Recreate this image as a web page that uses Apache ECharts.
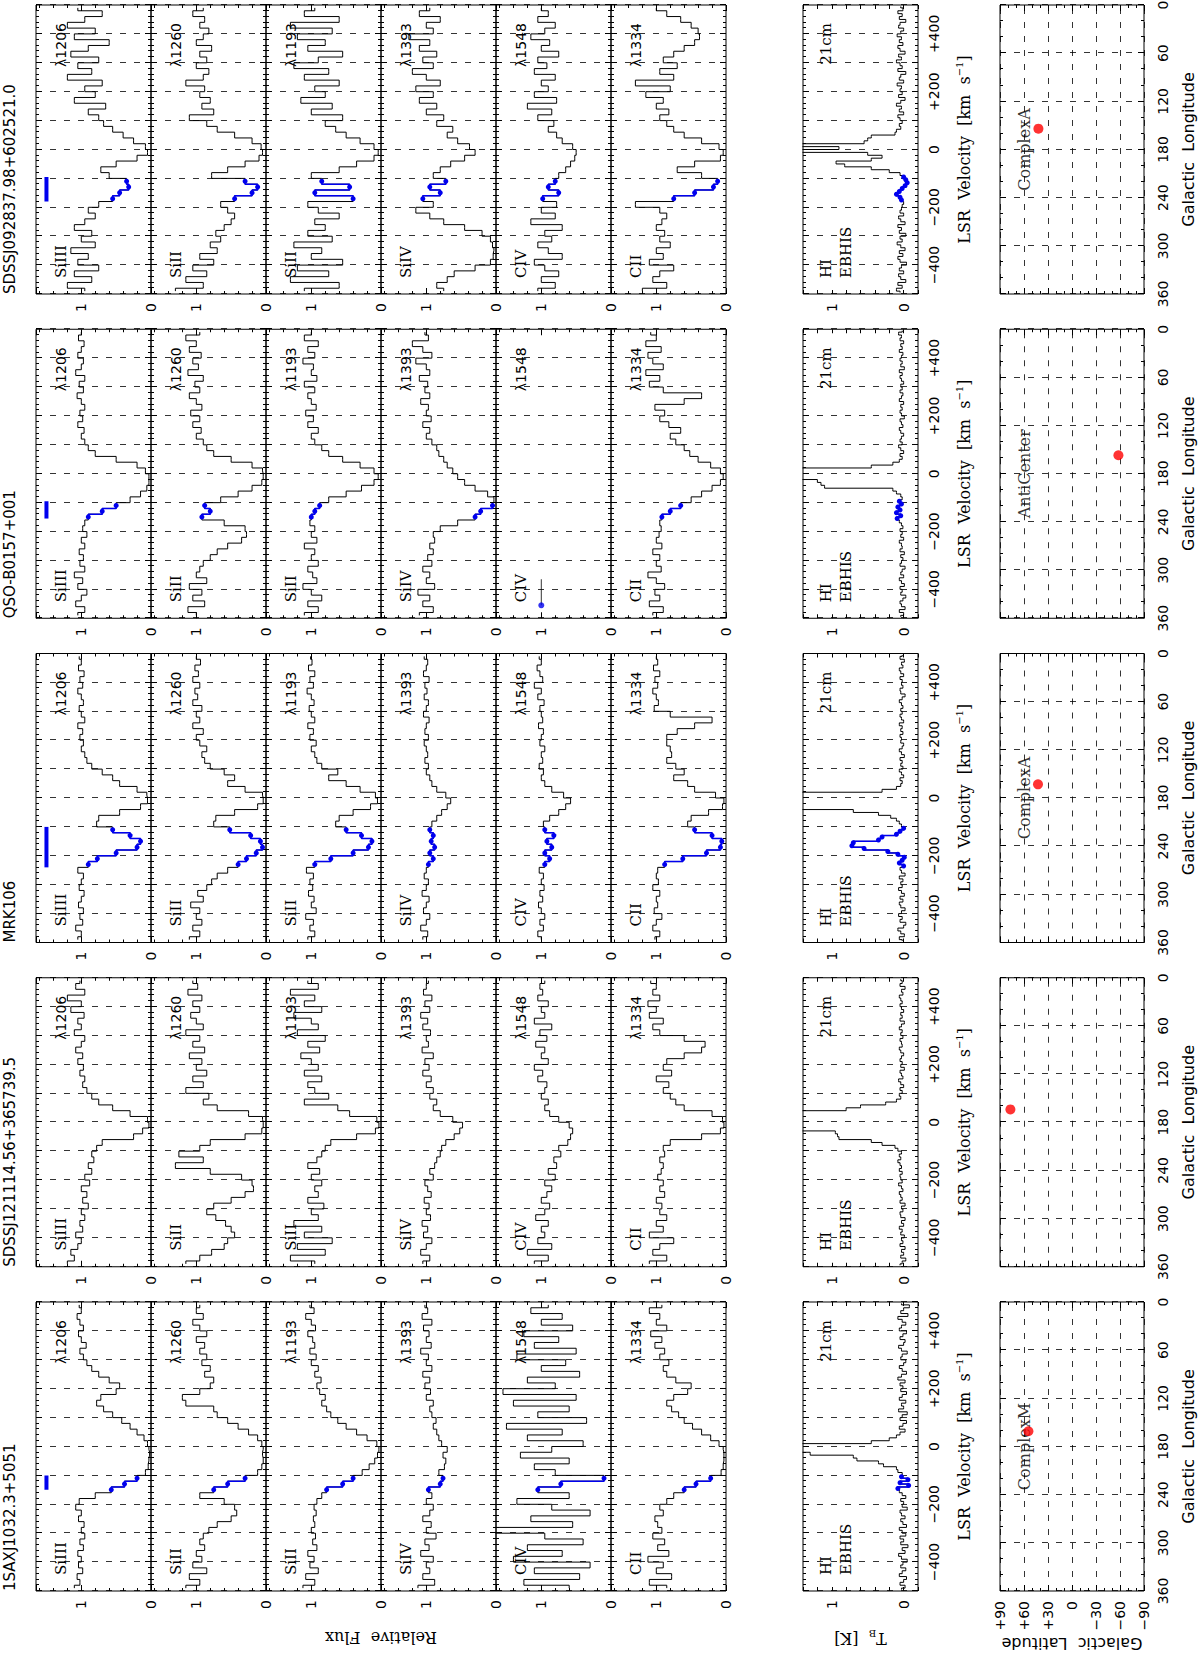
<!DOCTYPE html>
<html>
<head>
<meta charset="utf-8">
<script src="https://cdn.jsdelivr.net/npm/echarts@6/dist/echarts.min.js"></script>
<style>
html, body { margin: 0; padding: 0; background: #fff; width: 1200px; height: 1655px; overflow: hidden; }
#frame { position: absolute; left: 0; top: 0; width: 1200px; height: 1655px; overflow: hidden; background: #fff; }
/* the figure is laid out landscape and turned a quarter turn anticlockwise */
#chart { position: absolute; left: 0; top: 0; width: 1655px; height: 1200px; transform-origin: 0 0; transform: translate(0, 1655px) rotate(-90deg); }
</style>
</head>
<body>
<div id="frame"><div id="chart"></div></div>
<script>
// ---- data ----
var sourceNames = ['1SAXJ1032.3+5051', 'SDSSJ121114.56+365739.5', 'MRK106', 'QSO-B0157+001', 'SDSSJ092837.98+602521.0'];
var ionNames = ['SiIII', 'SiII', 'SiII', 'SiIV', 'CIV', 'CII'];
var lineNames = ['\u03bb1206', '\u03bb1260', '\u03bb1193', '\u03bb1393', '\u03bb1548', '\u03bb1334'];

// UV bin centres (km/s)
var uvVel = [-490, -470, -450, -430, -410, -390, -370, -350, -330, -310,
  -290, -270, -250, -230, -210, -190, -170, -150, -130, -110,
  -90, -70, -50, -30, -10, 10, 30, 50, 70, 90,
  110, 130, 150, 170, 190, 210, 230, 250, 270, 290,
  310, 330, 350, 370, 390, 410, 430, 450, 470, 490];

// 21cm channel centres (km/s)
var hiVel = [-495, -485, -475, -465, -455, -445, -435, -425, -415, -405,
  -395, -385, -375, -365, -355, -345, -335, -325, -315, -305,
  -295, -285, -275, -265, -255, -245, -235, -225, -215, -205,
  -195, -185, -175, -165, -155, -145, -135, -125, -115, -105,
  -95, -85, -75, -65, -55, -45, -35, -25, -15, -5,
  5, 15, 25, 35, 45, 55, 65, 75, 85, 95,
  105, 115, 125, 135, 145, 155, 165, 175, 185, 195,
  205, 215, 225, 235, 245, 255, 265, 275, 285, 295,
  305, 315, 325, 335, 345, 355, 365, 375, 385, 395,
  405, 415, 425, 435, 445, 455, 465, 475, 485, 495];

// 1SAXJ1032.3+5051
var saxSiIII = [1.10, 1.02, 1.06, 0.98, 1.04, 1.00, 1.05, 0.97, 1.02, 0.95,
  1.00, 0.96, 1.04, 1.00, 1.08, 1.03, 0.80, 0.57, 0.38, 0.20,
  0.08, 0.04, 0.03, 0.02, 0.03, 0.05, 0.10, 0.20, 0.30, 0.42,
  0.55, 0.68, 0.78, 0.72, 0.50, 0.45, 0.60, 0.75, 0.85, 0.92,
  0.97, 1.02, 0.93, 1.00, 1.04, 0.97, 1.02, 1.06, 1.00, 1.03];
var saxSiII1260 = [1.15, 0.95, 1.10, 0.85, 1.05, 0.92, 1.00, 0.88, 0.95, 0.90,
  0.82, 0.70, 0.50, 0.42, 0.45, 0.60, 0.95, 0.75, 0.55, 0.30,
  0.12, 0.06, 0.04, 0.05, 0.04, 0.06, 0.12, 0.25, 0.40, 0.55,
  0.70, 0.75, 1.15, 1.20, 0.95, 0.80, 0.75, 0.88, 0.80, 0.92,
  0.85, 0.95, 0.88, 1.00, 0.85, 0.95, 1.05, 0.90, 1.00, 0.95];
var saxSiII1193 = [1.12, 0.95, 1.08, 0.90, 1.02, 0.96, 1.05, 0.92, 0.98, 0.94,
  1.00, 0.95, 0.97, 0.93, 0.96, 0.92, 0.85, 0.78, 0.55, 0.40,
  0.27, 0.17, 0.09, 0.05, 0.03, 0.06, 0.20, 0.35, 0.50, 0.62,
  0.72, 0.78, 0.85, 0.80, 0.88, 0.92, 0.86, 0.95, 0.90, 1.00,
  0.93, 1.02, 0.95, 0.98, 1.05, 0.94, 1.00, 1.08, 0.96, 1.02];
var saxSiIV = [1.12, 0.88, 1.05, 0.95, 1.00, 0.90, 1.08, 0.96, 1.02, 0.86,
  1.00, 0.93, 1.05, 0.95, 0.90, 1.00, 0.92, 0.97, 0.80, 0.76,
  0.82, 0.74, 0.72, 0.76, 0.70, 0.78, 0.82, 0.85, 0.90, 0.86,
  0.92, 0.95, 0.90, 1.00, 0.94, 1.02, 0.95, 1.05, 0.92, 1.00,
  0.97, 1.08, 0.93, 1.00, 0.96, 1.04, 0.92, 1.06, 0.98, 1.02];
var saxCIV = [0.60, 1.25, 0.45, 1.10, 0.30, 1.40, 0.70, 1.20, 0.40, 0.95,
  1.70, 0.55, 1.15, 0.30, 0.85, 1.35, 0.60, 1.05, 0.72, 0.10,
  0.80, 1.10, 0.60, 1.30, 0.85, 0.40, 1.20, 0.70, 1.50, 0.35,
  1.05, 0.60, 1.40, 0.50, 1.55, 0.80, 1.20, 0.45, 1.00, 0.65,
  1.35, 0.50, 1.10, 0.75, 1.25, 0.55, 1.00, 0.70, 1.15, 0.90];
var saxCII = [0.85, 1.10, 0.78, 1.00, 0.90, 1.12, 0.82, 0.98, 0.88, 1.05,
  0.92, 0.98, 1.02, 0.90, 0.95, 0.85, 0.75, 0.60, 0.43, 0.22,
  0.07, 0.04, 0.03, 0.03, 0.04, 0.10, 0.22, 0.35, 0.48, 0.60,
  0.68, 0.78, 0.85, 0.75, 0.55, 0.50, 0.72, 0.85, 0.90, 0.82,
  0.95, 0.88, 1.02, 0.92, 1.08, 0.85, 1.00, 0.95, 1.10, 0.92];
var saxHI = [0.03, -0.02, 0.05, 0.00, -0.04, 0.06, 0.02, -0.03, 0.04, 0.01,
  -0.05, 0.03, 0.07, -0.02, 0.02, -0.06, 0.04, 0.00, 0.05, -0.03,
  0.02, 0.06, -0.04, 0.01, 0.04, -0.02, 0.03, 0.05, -0.05, 0.02,
  0.00, 0.04, -0.03, 0.02, 0.06, 0.08, -0.07, 0.05, -0.06, 0.03,
  0.02, 0.08, 0.10, 0.28, 0.35, 0.65, 0.70, 1.30, 3.50, 6.00,
  2.80, 0.45, 0.20, 0.10, 0.05, -0.02, 0.06, 0.01, -0.04, 0.05,
  0.02, -0.05, 0.07, 0.00, 0.03, -0.03, 0.06, 0.02, -0.04, 0.04,
  0.01, 0.05, -0.02, 0.08, 0.03, -0.04, 0.02, 0.06, 0.00, -0.03,
  0.04, 0.02, -0.05, 0.03, 0.07, 0.00, -0.02, 0.05, 0.01, -0.04,
  0.06, 0.03, -0.03, 0.02, 0.08, -0.06, 0.04, 0.00, -0.08, 0.03];

// SDSSJ121114.56+365739.5
var j1211SiIII = [1.20, 1.10, 1.15, 1.05, 1.00, 1.08, 0.98, 1.02, 0.95, 1.00,
  0.90, 0.98, 0.92, 1.00, 0.88, 0.95, 0.85, 0.90, 0.82, 0.85,
  0.78, 0.70, 0.25, 0.12, 0.03, 0.05, 0.30, 0.55, 0.75, 0.85,
  0.92, 0.98, 0.95, 1.02, 0.97, 1.05, 0.98, 1.08, 1.00, 0.95,
  1.10, 1.00, 1.05, 0.96, 1.15, 1.00, 1.20, 0.95, 1.08, 1.02];
var j1211SiII1260 = [1.15, 0.95, 0.78, 0.60, 0.55, 0.45, 0.50, 0.58, 0.72, 0.85,
  0.75, 0.50, 0.30, 0.18, 0.20, 0.35, 0.80, 1.30, 0.90, 1.25,
  0.95, 0.80, 0.30, 0.06, 0.04, 0.05, 0.25, 0.70, 0.90, 0.82,
  1.15, 0.90, 1.05, 0.85, 1.00, 0.92, 1.10, 0.88, 1.05, 0.95,
  1.15, 0.90, 1.00, 1.08, 0.95, 1.05, 0.92, 1.12, 0.98, 1.05];
var j1211SiII1193 = [0.95, 1.30, 0.80, 1.20, 0.70, 1.10, 0.85, 1.25, 0.90, 1.00,
  0.82, 1.05, 0.90, 0.95, 0.85, 1.00, 0.88, 1.05, 0.92, 0.85,
  0.80, 0.72, 0.35, 0.08, 0.03, 0.06, 0.45, 0.62, 1.10, 0.75,
  0.95, 1.05, 0.85, 1.10, 0.90, 1.00, 1.15, 0.88, 1.05, 0.80,
  1.20, 0.90, 1.00, 1.25, 0.85, 1.10, 0.95, 1.30, 0.90, 1.05];
var j1211SiIV = [1.05, 0.95, 1.08, 1.00, 0.92, 1.04, 0.98, 1.06, 0.94, 1.00,
  0.96, 1.03, 0.93, 0.98, 1.02, 0.90, 0.95, 0.88, 0.85, 0.80,
  0.78, 0.72, 0.60, 0.52, 0.48, 0.62, 0.80, 0.90, 0.85, 0.95,
  0.90, 1.00, 0.93, 1.05, 0.96, 1.02, 0.90, 1.06, 0.97, 1.00,
  0.94, 1.05, 0.98, 1.08, 0.95, 1.02, 0.92, 1.04, 1.00, 0.97];
var j1211CIV = [1.10, 0.90, 1.20, 0.85, 1.05, 0.95, 1.00, 0.90, 1.08, 0.95,
  0.88, 1.00, 0.92, 0.85, 0.95, 0.80, 0.90, 0.78, 0.82, 0.72,
  0.75, 0.62, 0.58, 0.55, 0.60, 0.75, 0.88, 0.95, 0.90, 1.00,
  0.95, 0.92, 1.05, 0.98, 1.10, 0.90, 1.00, 0.95, 1.08, 0.92,
  1.02, 0.85, 1.10, 0.95, 1.00, 0.90, 1.05, 0.98, 1.02, 0.95];
var j1211CII = [1.10, 0.85, 1.05, 0.95, 0.75, 1.10, 0.90, 1.00, 0.85, 0.95,
  0.92, 1.00, 0.88, 0.95, 0.90, 0.98, 0.93, 0.90, 0.95, 0.88,
  0.90, 0.80, 0.35, 0.08, 0.03, 0.05, 0.20, 0.60, 0.72, 0.80,
  0.90, 0.82, 1.00, 0.78, 0.90, 0.85, 0.60, 0.35, 0.30, 0.60,
  0.95, 1.05, 0.90, 1.10, 1.00, 1.12, 0.95, 1.05, 1.00, 1.08];
var j1211HI = [0.05, 0.02, -0.03, 0.04, 0.00, 0.03, -0.02, 0.05, 0.01, 0.03,
  -0.01, 0.04, 0.02, 0.06, 0.00, 0.03, -0.02, 0.04, 0.05, 0.01,
  0.03, -0.02, 0.05, 0.02, 0.04, 0.06, 0.01, 0.03, 0.07, 0.02,
  0.04, 0.05, 0.02, 0.06, 0.03, 0.05, 0.08, 0.04, 0.06, 0.03,
  0.08, 0.12, 0.30, 0.45, 0.90, 0.92, 0.95, 2.50, 4.00, 5.00,
  5.00, 4.50, 3.00, 1.80, 0.80, 0.60, 0.25, 0.10, 0.04, 0.06,
  0.02, 0.05, 0.00, 0.04, 0.07, 0.01, 0.03, 0.05, -0.01, 0.04,
  0.02, 0.05, 0.03, 0.00, 0.04, 0.06, 0.02, 0.03, 0.05, 0.01,
  0.04, 0.02, 0.06, 0.03, -0.01, 0.05, 0.02, 0.04, 0.00, 0.03,
  0.05, 0.02, 0.04, 0.06, 0.01, 0.03, -0.02, 0.05, 0.02, 0.04];

// MRK106
var mrkSiIII = [1.05, 1.00, 1.08, 0.98, 1.02, 0.97, 1.04, 1.00, 0.96, 1.03,
  1.00, 0.97, 1.05, 0.90, 0.77, 0.50, 0.20, 0.15, 0.30, 0.55,
  0.78, 0.75, 0.45, 0.15, 0.05, 0.06, 0.20, 0.45, 0.55, 0.70,
  0.85, 0.92, 0.95, 1.00, 0.97, 1.02, 0.98, 1.05, 0.95, 1.00,
  1.03, 0.97, 1.00, 1.05, 0.98, 1.02, 0.96, 1.04, 1.00, 1.03];
var mrkSiII1260 = [1.10, 0.95, 1.05, 0.92, 1.00, 0.95, 1.08, 0.90, 0.98, 0.85,
  0.78, 0.70, 0.55, 0.40, 0.28, 0.14, 0.05, 0.08, 0.22, 0.52,
  0.75, 0.72, 0.45, 0.12, 0.04, 0.05, 0.30, 0.55, 0.45, 0.60,
  0.80, 0.88, 0.92, 0.85, 0.95, 1.00, 0.90, 1.05, 0.95, 1.00,
  0.92, 1.05, 0.98, 1.02, 0.95, 1.05, 0.97, 1.02, 0.94, 1.00];
var mrkSiII1193 = [1.05, 0.95, 1.02, 0.97, 1.08, 0.93, 1.00, 0.96, 1.04, 0.98,
  1.02, 0.97, 1.07, 0.95, 0.72, 0.40, 0.18, 0.13, 0.28, 0.50,
  0.65, 0.60, 0.40, 0.15, 0.05, 0.08, 0.30, 0.50, 0.75, 0.62,
  0.85, 0.92, 0.95, 1.00, 0.93, 1.02, 0.97, 1.05, 0.95, 1.00,
  1.03, 0.96, 1.00, 1.06, 0.97, 1.02, 0.95, 1.04, 0.99, 1.01];
var mrkSiIV = [1.05, 0.98, 1.08, 1.00, 0.95, 1.04, 1.00, 0.96, 1.06, 1.00,
  0.97, 1.03, 1.00, 0.97, 0.90, 0.95, 0.88, 0.93, 0.90, 0.95,
  0.92, 0.85, 0.78, 0.70, 0.65, 0.72, 0.85, 0.92, 0.95, 1.00,
  0.97, 1.02, 0.98, 1.00, 1.03, 0.97, 1.02, 1.00, 0.96, 1.04,
  1.00, 0.97, 1.03, 0.99, 1.02, 0.96, 1.04, 1.00, 0.98, 1.03];
var mrkCIV = [1.00, 1.05, 0.97, 1.02, 0.95, 1.00, 1.04, 0.98, 1.02, 0.96,
  1.00, 0.97, 1.03, 0.95, 0.88, 0.95, 0.85, 0.92, 0.82, 0.95,
  0.97, 0.88, 0.75, 0.65, 0.58, 0.68, 0.85, 0.95, 1.00, 0.97,
  1.03, 0.98, 1.00, 0.95, 1.02, 1.00, 0.97, 1.04, 0.98, 1.00,
  1.02, 0.96, 1.05, 1.00, 1.10, 0.98, 1.02, 1.06, 1.00, 1.03];
var mrkCII = [1.02, 0.95, 1.05, 1.00, 0.92, 1.03, 0.98, 1.00, 0.95, 1.05,
  0.97, 1.00, 0.98, 0.88, 0.62, 0.28, 0.08, 0.06, 0.20, 0.45,
  0.55, 0.50, 0.25, 0.05, 0.03, 0.15, 0.45, 0.55, 0.75, 0.60,
  0.72, 0.85, 0.78, 0.80, 0.85, 0.85, 0.70, 0.45, 0.20, 0.80,
  1.03, 0.97, 1.00, 1.05, 0.98, 1.02, 0.95, 1.04, 0.98, 1.00];
var mrkHI = [0.02, 0.06, -0.01, 0.04, 0.08, 0.00, -0.03, 0.05, 0.02, 0.07,
  0.03, -0.02, 0.04, 0.06, 0.01, 0.05, -0.01, 0.03, 0.07, 0.02,
  0.04, 0.01, 0.06, -0.02, 0.03, 0.05, 0.00, 0.06, 0.02, -0.01,
  0.08, 0.22, 0.55, 0.72, 0.70, 0.35, 0.30, 0.10, 0.05, 0.00,
  0.03, 0.06, 0.10, 0.18, 0.35, 0.70, 1.50, 3.50, 6.00, 8.00,
  5.00, 1.50, 0.30, 0.10, 0.04, 0.02, 0.05, 0.00, 0.03, 0.06,
  0.01, 0.04, 0.02, 0.05, -0.01, 0.03, 0.06, 0.02, 0.00, 0.04,
  0.03, 0.05, 0.01, 0.04, 0.02, 0.06, 0.00, 0.03, 0.05, 0.02,
  0.04, 0.01, 0.03, 0.06, 0.02, -0.02, 0.04, 0.05, 0.01, 0.03,
  0.02, 0.05, 0.00, 0.04, 0.06, 0.01, 0.03, -0.01, 0.05, 0.02];

// QSO-B0157+001
var b0157SiIII = [1.05, 0.95, 1.08, 1.00, 0.92, 1.05, 0.98, 1.10, 0.95, 1.02,
  0.97, 1.03, 0.95, 1.00, 0.92, 0.98, 0.95, 0.90, 0.70, 0.50,
  0.30, 0.15, 0.06, 0.03, 0.03, 0.08, 0.20, 0.50, 0.80, 0.90,
  0.95, 1.00, 0.96, 1.05, 0.98, 1.02, 0.95, 1.00, 1.06, 0.97,
  1.03, 0.95, 1.08, 1.00, 0.97, 1.05, 1.00, 0.96, 1.04, 1.00];
var b0157SiII1260 = [1.00, 1.12, 0.88, 1.05, 0.92, 1.10, 0.85, 1.00, 0.95, 0.90,
  0.80, 0.70, 0.55, 0.35, 0.28, 0.30, 0.60, 0.92, 0.80, 0.88,
  0.65, 0.40, 0.20, 0.06, 0.04, 0.05, 0.20, 0.50, 0.75, 0.85,
  0.90, 1.00, 0.93, 1.05, 0.95, 1.08, 0.92, 1.00, 1.10, 0.95,
  1.02, 0.90, 1.12, 0.97, 1.05, 0.93, 1.10, 1.00, 1.15, 0.95];
var b0157SiII1193 = [1.10, 0.90, 1.05, 0.85, 1.00, 1.12, 0.92, 0.98, 1.05, 0.90,
  1.00, 0.95, 1.10, 0.92, 1.00, 0.95, 1.02, 1.00, 0.95, 0.88,
  0.75, 0.50, 0.28, 0.10, 0.04, 0.10, 0.30, 0.55, 0.75, 0.85,
  0.95, 1.00, 0.90, 1.05, 0.97, 1.08, 0.93, 1.00, 1.05, 0.95,
  1.10, 0.92, 1.00, 0.97, 1.12, 0.95, 1.05, 0.90, 1.10, 1.00];
var b0157SiIV = [1.10, 0.90, 1.05, 0.95, 1.12, 0.88, 1.00, 0.95, 1.05, 0.92,
  0.98, 0.90, 0.95, 0.88, 0.90, 0.80, 0.55, 0.30, 0.22, 0.05,
  0.03, 0.12, 0.30, 0.45, 0.55, 0.62, 0.70, 0.75, 0.82, 0.85,
  0.92, 1.00, 0.95, 1.05, 0.93, 1.00, 0.97, 1.08, 0.95, 1.02,
  0.98, 1.10, 0.95, 1.00, 1.15, 0.92, 1.05, 1.20, 0.97, 1.02];
var b0157CivVel = [-455, -365];
var b0157CivFlux = [1.00, 1.00];
var b0157CII = [1.05, 0.90, 1.10, 0.95, 1.02, 0.88, 1.00, 1.12, 0.93, 1.00,
  0.95, 1.05, 0.92, 1.00, 0.96, 0.93, 0.95, 0.92, 0.80, 0.65,
  0.50, 0.35, 0.20, 0.08, 0.04, 0.08, 0.22, 0.40, 0.52, 0.60,
  0.72, 0.80, 0.65, 0.82, 0.95, 0.88, 1.02, 0.60, 0.35, 0.90,
  1.10, 0.95, 1.15, 0.90, 1.05, 1.12, 0.93, 1.15, 1.00, 1.08];
var b0157HI = [0.04, 0.00, 0.06, -0.02, 0.03, 0.05, 0.01, -0.03, 0.04, 0.02,
  0.05, -0.01, 0.03, 0.06, 0.00, 0.04, 0.02, -0.02, 0.05, 0.03,
  0.01, 0.04, -0.01, 0.05, 0.02, 0.03, 0.06, 0.00, 0.04, 0.02,
  0.05, 0.01, 0.03, 0.06, 0.09, 0.04, 0.10, 0.05, 0.08, 0.03,
  0.06, 0.02, 0.04, 0.10, 0.15, 1.10, 1.15, 1.20, 2.50, 5.00,
  6.00, 3.50, 0.45, 0.15, 0.06, 0.02, 0.05, 0.00, 0.04, 0.07,
  0.02, 0.05, 0.03, 0.00, 0.04, 0.06, 0.01, 0.03, 0.05, -0.01,
  0.03, 0.05, 0.02, 0.04, 0.00, 0.06, 0.03, 0.01, 0.05, 0.02,
  0.04, 0.00, 0.03, 0.05, 0.02, 0.06, -0.01, 0.04, 0.02, 0.05,
  0.03, 0.01, 0.06, 0.02, 0.04, 0.00, 0.05, 0.03, 0.07, 0.02];

// SDSSJ092837.98+602521.0
var j0928SiIII = [0.95, 1.20, 0.85, 1.10, 0.75, 1.05, 0.90, 1.15, 0.80, 1.00,
  0.85, 1.10, 0.95, 0.80, 0.90, 0.75, 0.55, 0.45, 0.32, 0.35,
  0.60, 0.72, 0.50, 0.20, 0.05, 0.08, 0.25, 0.40, 0.55, 0.68,
  0.75, 0.90, 0.65, 1.10, 0.80, 0.95, 0.70, 1.20, 0.85, 1.05,
  0.75, 1.15, 0.90, 0.60, 1.10, 0.80, 1.20, 0.95, 0.70, 1.05];
var j0928SiII1260 = [1.30, 0.90, 1.15, 0.85, 1.05, 0.75, 0.95, 0.70, 0.80, 0.65,
  0.72, 0.60, 0.50, 0.45, 0.55, 0.65, 0.45, 0.20, 0.12, 0.30,
  0.78, 0.55, 0.30, 0.10, 0.05, 0.07, 0.20, 0.45, 0.70, 0.85,
  1.10, 0.75, 0.92, 0.80, 0.95, 0.88, 1.15, 0.90, 0.82, 1.00,
  0.85, 0.95, 0.78, 1.00, 0.90, 0.82, 0.95, 0.88, 1.05, 0.90];
var j0928SiII1193 = [1.10, 0.60, 1.30, 0.75, 1.20, 0.55, 1.00, 0.85, 1.25, 0.70,
  1.05, 0.80, 0.95, 0.60, 0.90, 1.05, 0.40, 0.95, 0.45, 0.85,
  1.00, 0.60, 0.35, 0.10, 0.04, 0.10, 0.30, 0.50, 0.65, 0.80,
  0.55, 1.00, 0.70, 1.15, 0.80, 0.95, 0.60, 1.10, 0.75, 1.25,
  0.90, 0.55, 1.05, 0.80, 1.20, 0.70, 1.30, 0.60, 1.10, 0.95];
var j0928SiIV = [0.75, 0.85, 0.70, 0.60, 0.30, 0.08, 0.04, 0.03, 0.05, 0.08,
  0.20, 0.45, 0.75, 0.95, 1.15, 0.90, 1.05, 0.80, 0.95, 0.72,
  0.90, 0.80, 0.65, 0.45, 0.30, 0.38, 0.55, 0.70, 0.62, 0.85,
  0.75, 1.00, 0.85, 1.10, 0.90, 1.15, 0.80, 1.00, 1.20, 0.90,
  1.05, 0.85, 1.10, 0.95, 1.25, 0.90, 1.00, 0.80, 1.10, 0.95];
var j0928CIV = [1.05, 0.80, 1.00, 0.75, 0.95, 1.10, 0.70, 0.90, 1.05, 0.85,
  0.95, 0.70, 1.15, 0.80, 1.00, 0.78, 0.98, 0.75, 0.90, 0.80,
  0.75, 0.65, 0.58, 0.52, 0.50, 0.55, 0.70, 0.78, 0.90, 0.82,
  1.05, 0.85, 1.20, 0.78, 1.10, 0.90, 1.00, 0.80, 1.10, 0.92,
  1.05, 0.75, 1.00, 0.88, 1.15, 0.95, 0.80, 1.05, 0.90, 1.00];
var j0928CII = [1.20, 0.85, 1.05, 0.95, 0.75, 1.10, 0.90, 1.00, 0.80, 0.95,
  0.88, 1.00, 0.92, 0.85, 0.95, 1.30, 0.75, 0.45, 0.18, 0.12,
  0.35, 0.70, 0.45, 0.08, 0.04, 0.10, 0.35, 0.60, 0.75, 0.85,
  0.95, 0.82, 1.00, 0.90, 1.15, 0.80, 1.30, 0.75, 0.95, 0.70,
  0.90, 0.75, 0.60, 0.45, 0.38, 0.40, 0.50, 0.65, 0.85, 1.00];
var j0928HI = [0.05, 0.10, 0.02, 0.08, -0.03, 0.04, 0.07, 0.00, 0.06, 0.03,
  -0.04, 0.05, 0.08, 0.01, 0.06, -0.02, 0.04, 0.09, 0.02, 0.05,
  -0.03, 0.06, 0.03, 0.08, -0.02, 0.04, 0.07, 0.00, 0.05, 0.03,
  0.02, 0.00, 0.03, 0.05, 0.10, 0.06, 0.02, -0.02, -0.05, -0.03,
  0.00, 0.05, 0.20, 0.45, 0.82, 0.94, 0.45, 0.30, 0.50, 4.00,
  0.90, 4.00, 0.55, 0.50, 0.45, 0.12, 0.10, 0.04, 0.06, 0.02,
  0.05, 0.08, 0.00, 0.06, 0.03, 0.10, 0.04, -0.02, 0.07, 0.02,
  0.05, 0.03, 0.09, 0.00, 0.06, 0.04, -0.03, 0.08, 0.02, 0.05,
  0.10, 0.03, 0.07, -0.02, 0.05, 0.08, 0.01, 0.06, 0.03, 0.09,
  0.04, 0.00, 0.07, 0.05, -0.03, 0.06, 0.02, 0.08, 0.01, 0.04];

var uvFlux = [
  [saxSiIII, saxSiII1260, saxSiII1193, saxSiIV, saxCIV, saxCII],
  [j1211SiIII, j1211SiII1260, j1211SiII1193, j1211SiIV, j1211CIV, j1211CII],
  [mrkSiIII, mrkSiII1260, mrkSiII1193, mrkSiIV, mrkCIV, mrkCII],
  [b0157SiIII, b0157SiII1260, b0157SiII1193, b0157SiIV, null, b0157CII],
  [j0928SiIII, j0928SiII1260, j0928SiII1193, j0928SiIV, j0928CIV, j0928CII]
];
var hiTemp = [saxHI, j1211HI, mrkHI, b0157HI, j0928HI];

// high-velocity integration ranges (km/s) and bar level
var hvcLow = [-150, null, -240, -155, -180];
var hvcHigh = [-100, null, -100, -95, -95];
var hvcBarFlux = 1.5;

// sky positions
var glon = [161, 164, 163, 157, 154];
var glat = [54.5, 77, 42.5, -58, 42];
var complexNames = ['ComplexM', '', 'ComplexA', 'AntiCenter', 'ComplexA'];
var complexLabelPos = [180, 60];

// ---- layout (landscape coordinates) ----
var BLACK = '#000000', BLUE = '#0000ee', RED = '#ff0000';
var SANS = 'DejaVu Sans', SERIF = 'DejaVu Serif';
var DASH = [6, 8];
var PW = 289;
var blockLeft = [64, 388.25, 712.5, 1036.75, 1361];
var fluxTop = [36, 151, 266, 381, 496, 611];
var PH = 115, hiTop = 803, mapTop = 1000, mapH = 144;

var grids = [], xAxes = [], yAxes = [], series = [], graphics = [], titles = [];

function tick(len) { return { show: true, inside: true, length: len, lineStyle: { color: BLACK, width: 1 } }; }
function minor(n, len) { return { show: true, splitNumber: n, length: len, lineStyle: { color: BLACK, width: 1 } }; }
var noLine = { show: false, onZero: false };
var dashed = { show: true, lineStyle: { color: BLACK, width: 0.8, type: DASH } };

function unitLabel(v) {
  if (Math.abs(v) < 1e-6) return '0';
  if (Math.abs(v - 1) < 1e-6) return '1';
  return '';
}
function velLabel(v) {
  var r = Math.round(v);
  if (r === 0) return '0';
  if (r % 200 !== 0 || Math.abs(r) >= 500) return '';
  return r > 0 ? '+' + r : '\u2212' + (-r);
}
function signLabel(v) {
  var r = Math.round(v);
  return r > 0 ? '+' + r : (r < 0 ? '\u2212' + (-r) : '0');
}

function addGrid(left, top, h) {
  grids.push({ left: left, top: top, width: PW, height: h, show: true,
    borderColor: BLACK, borderWidth: 1, backgroundColor: 'transparent',
    containLabel: false, outerBoundsMode: 'none' });
  return grids.length - 1;
}

function addVelAxes(g, withLabels) {
  var common = { gridIndex: g, type: 'value', min: -500, max: 500, interval: 100,
    axisLine: noLine, axisTick: tick(6), minorTick: minor(5, 3) };
  var main = Object.assign({}, common, { position: 'bottom', splitLine: dashed, axisLabel: { show: false } });
  if (withLabels) {
    main.axisLabel = { show: true, formatter: velLabel, fontFamily: SANS, fontSize: 14, color: BLACK, margin: 9 };
    main.name = 'LSR\u00a0 Velocity\u00a0 [km\u00a0 s{sup|\u22121}]';
    main.nameLocation = 'middle';
    main.nameGap = 36;
    main.nameTextStyle = { fontFamily: SERIF, fontSize: 16, color: BLACK, lineHeight: 20,
      rich: { sup: { fontFamily: SERIF, fontSize: 10, color: BLACK, lineHeight: 10, verticalAlign: 'top' } } };
  }
  xAxes.push(main);
  xAxes.push(Object.assign({}, common, { position: 'top', splitLine: { show: false }, axisLabel: { show: false } }));
}

function addFluxY(g) {
  var common = { gridIndex: g, type: 'value', min: 0, max: 1.65, interval: 1,
    axisLine: noLine, axisTick: tick(6), minorTick: minor(5, 3), splitLine: { show: false } };
  yAxes.push(Object.assign({}, common, { position: 'left',
    axisLabel: { show: true, formatter: unitLabel, showMaxLabel: false, fontFamily: SANS, fontSize: 14, color: BLACK, margin: 9 } }));
  yAxes.push(Object.assign({}, common, { position: 'right', axisLabel: { show: false } }));
}

function addHIY(g, withName) {
  var common = { gridIndex: g, type: 'value', min: -0.2, max: 1.4, interval: 0.2,
    axisLine: noLine, axisTick: tick(4), splitLine: { show: false } };
  var main = Object.assign({}, common, { position: 'left',
    axisLabel: { show: true, formatter: unitLabel, fontFamily: SANS, fontSize: 14, color: BLACK, margin: 9 } });
  if (withName) {
    main.name = 'T{sub|B}\u00a0 [K]';
    main.nameLocation = 'middle';
    main.nameGap = 37;
    main.nameTextStyle = { fontFamily: SERIF, fontSize: 16, color: BLACK, lineHeight: 20,
      rich: { sub: { fontFamily: SERIF, fontSize: 10, color: BLACK, lineHeight: 10, verticalAlign: 'bottom' } } };
  }
  yAxes.push(main);
  yAxes.push(Object.assign({}, common, { position: 'right', axisLabel: { show: false } }));
}

function addMapAxes(g, withLat) {
  var cx = { gridIndex: g, type: 'value', min: 0, max: 360, inverse: true, interval: 60,
    axisLine: noLine, axisTick: tick(6), minorTick: minor(3, 3) };
  xAxes.push(Object.assign({}, cx, { position: 'bottom', splitLine: dashed,
    axisLabel: { show: true, fontFamily: SANS, fontSize: 14, color: BLACK, margin: 12 },
    name: 'Galactic\u00a0 Longitude', nameLocation: 'middle', nameGap: 36,
    nameTextStyle: { fontFamily: SANS, fontSize: 16, color: BLACK } }));
  xAxes.push(Object.assign({}, cx, { position: 'top', splitLine: { show: false }, axisLabel: { show: false } }));
  var cy = { gridIndex: g, type: 'value', min: -90, max: 90, interval: 30,
    axisLine: noLine, axisTick: tick(6), minorTick: minor(3, 3) };
  var main = Object.assign({}, cy, { position: 'left', splitLine: dashed, axisLabel: { show: false } });
  if (withLat) {
    main.axisLabel = { show: true, formatter: signLabel, fontFamily: SANS, fontSize: 14, color: BLACK, margin: 10 };
    main.name = 'Galactic\u00a0 Latitude';
    main.nameLocation = 'middle';
    main.nameGap = 44;
    main.nameTextStyle = { fontFamily: SANS, fontSize: 16, color: BLACK };
  }
  yAxes.push(main);
  yAxes.push(Object.assign({}, cy, { position: 'right', splitLine: { show: false }, axisLabel: { show: false } }));
}

function histSeries(g, vel, vals) {
  return { type: 'line', xAxisIndex: 2 * g, yAxisIndex: 2 * g, step: 'middle', symbol: 'none',
    data: vel.map(function (v, i) { return [v, vals[i]]; }),
    lineStyle: { color: BLACK, width: 1 }, clip: true, silent: true, z: 2 };
}
function hvcSeries(g, vel, vals, lo, hi) {
  var pts = [];
  vel.forEach(function (v, i) { if (v >= lo && v <= hi) pts.push([v, vals[i]]); });
  return { type: 'line', xAxisIndex: 2 * g, yAxisIndex: 2 * g, step: 'middle',
    symbol: 'circle', symbolSize: 5, showSymbol: true, data: pts,
    itemStyle: { color: BLUE }, lineStyle: { color: BLUE, width: 1.5 }, clip: true, silent: true, z: 3 };
}

function txt(x, y, text, font, align, rot) {
  graphics.push({ type: 'text', x: x, y: y, rotation: rot || 0, silent: true, z: 10,
    style: { text: text, font: font, fill: BLACK, align: align, textAlign: align,
      verticalAlign: 'middle', textVerticalAlign: 'middle' } });
}

for (var s = 0; s < 5; s++) {
  var bl = blockLeft[s];
  titles.push({ text: sourceNames[s], left: bl, top: 2, padding: 0,
    textStyle: { fontFamily: SANS, fontSize: 15, fontWeight: 'normal', color: BLACK } });

  // absorption panels
  for (var p = 0; p < 6; p++) {
    var g = addGrid(bl, fluxTop[p], PH);
    addVelAxes(g, false);
    addFluxY(g);
    var vals = uvFlux[s][p];
    if (vals) {
      series.push(histSeries(g, uvVel, vals));
      if (hvcLow[s] !== null) series.push(hvcSeries(g, uvVel, vals, hvcLow[s], hvcHigh[s]));
    }
    if (p === 0 && hvcLow[s] !== null) {
      series.push({ type: 'line', xAxisIndex: 2 * g, yAxisIndex: 2 * g, symbol: 'none', silent: true, z: 3,
        data: [[hvcLow[s], hvcBarFlux], [hvcHigh[s], hvcBarFlux]], lineStyle: { color: BLUE, width: 4 } });
    }
    if (s === 3 && p === 4) {
      series.push({ type: 'line', xAxisIndex: 2 * g, yAxisIndex: 2 * g, symbol: 'none', silent: true, z: 2,
        data: b0157CivVel.map(function (v, i) { return [v, b0157CivFlux[i]]; }),
        lineStyle: { color: BLACK, width: 0.8 } });
      series.push({ type: 'scatter', xAxisIndex: 2 * g, yAxisIndex: 2 * g, symbolSize: 6, silent: true, z: 3,
        data: [[b0157CivVel[0], b0157CivFlux[0]]], itemStyle: { color: BLUE } });
    }
    txt(bl + 16, fluxTop[p] + 25, ionNames[p], '15px "DejaVu Serif"', 'left');
    txt(bl + PW - 18, fluxTop[p] + 25, lineNames[p], '14px "DejaVu Sans"', 'right');
  }

  // 21cm panel
  var gh = addGrid(bl, hiTop, PH);
  addVelAxes(gh, true);
  addHIY(gh, s === 0);
  series.push(histSeries(gh, hiVel, hiTemp[s]));
  if (hvcLow[s] !== null) series.push(hvcSeries(gh, hiVel, hiTemp[s], hvcLow[s], hvcHigh[s]));
  txt(bl + 16, hiTop + 23, 'HI', '15px "DejaVu Serif"', 'left');
  txt(bl + 16, hiTop + 43, 'EBHIS', '15px "DejaVu Serif"', 'left');
  txt(bl + PW - 18, hiTop + 23, '21cm', '15px "DejaVu Serif"', 'right');

  // sky map
  var gm = addGrid(bl, mapTop, mapH);
  addMapAxes(gm, s === 0);
  if (complexNames[s]) {
    series.push({ type: 'scatter', xAxisIndex: 2 * gm, yAxisIndex: 2 * gm, symbolSize: 1, silent: true, z: 3,
      itemStyle: { color: 'rgba(0,0,0,0)' },
      data: [{ value: complexLabelPos, name: complexNames[s] }],
      label: { show: true, position: 'inside', formatter: '{b}', color: BLACK, fontFamily: SERIF, fontSize: 16 } });
  }
  series.push({ type: 'scatter', xAxisIndex: 2 * gm, yAxisIndex: 2 * gm, symbolSize: 10, silent: true, z: 4,
    data: [[glon[s], glat[s]]], itemStyle: { color: RED } });
}

txt(18, (fluxTop[0] + fluxTop[5] + PH) / 2, 'Relative\u00a0 Flux', '16px "DejaVu Serif"', 'center', Math.PI / 2);

var chart = echarts.init(document.getElementById('chart'), null, { renderer: 'svg', width: 1655, height: 1200 });
chart.setOption({
  animation: false,
  backgroundColor: '#ffffff',
  title: titles,
  tooltip: { show: false },
  grid: grids,
  xAxis: xAxes,
  yAxis: yAxes,
  series: series,
  graphic: { elements: graphics }
});
</script>
</body>
</html>
